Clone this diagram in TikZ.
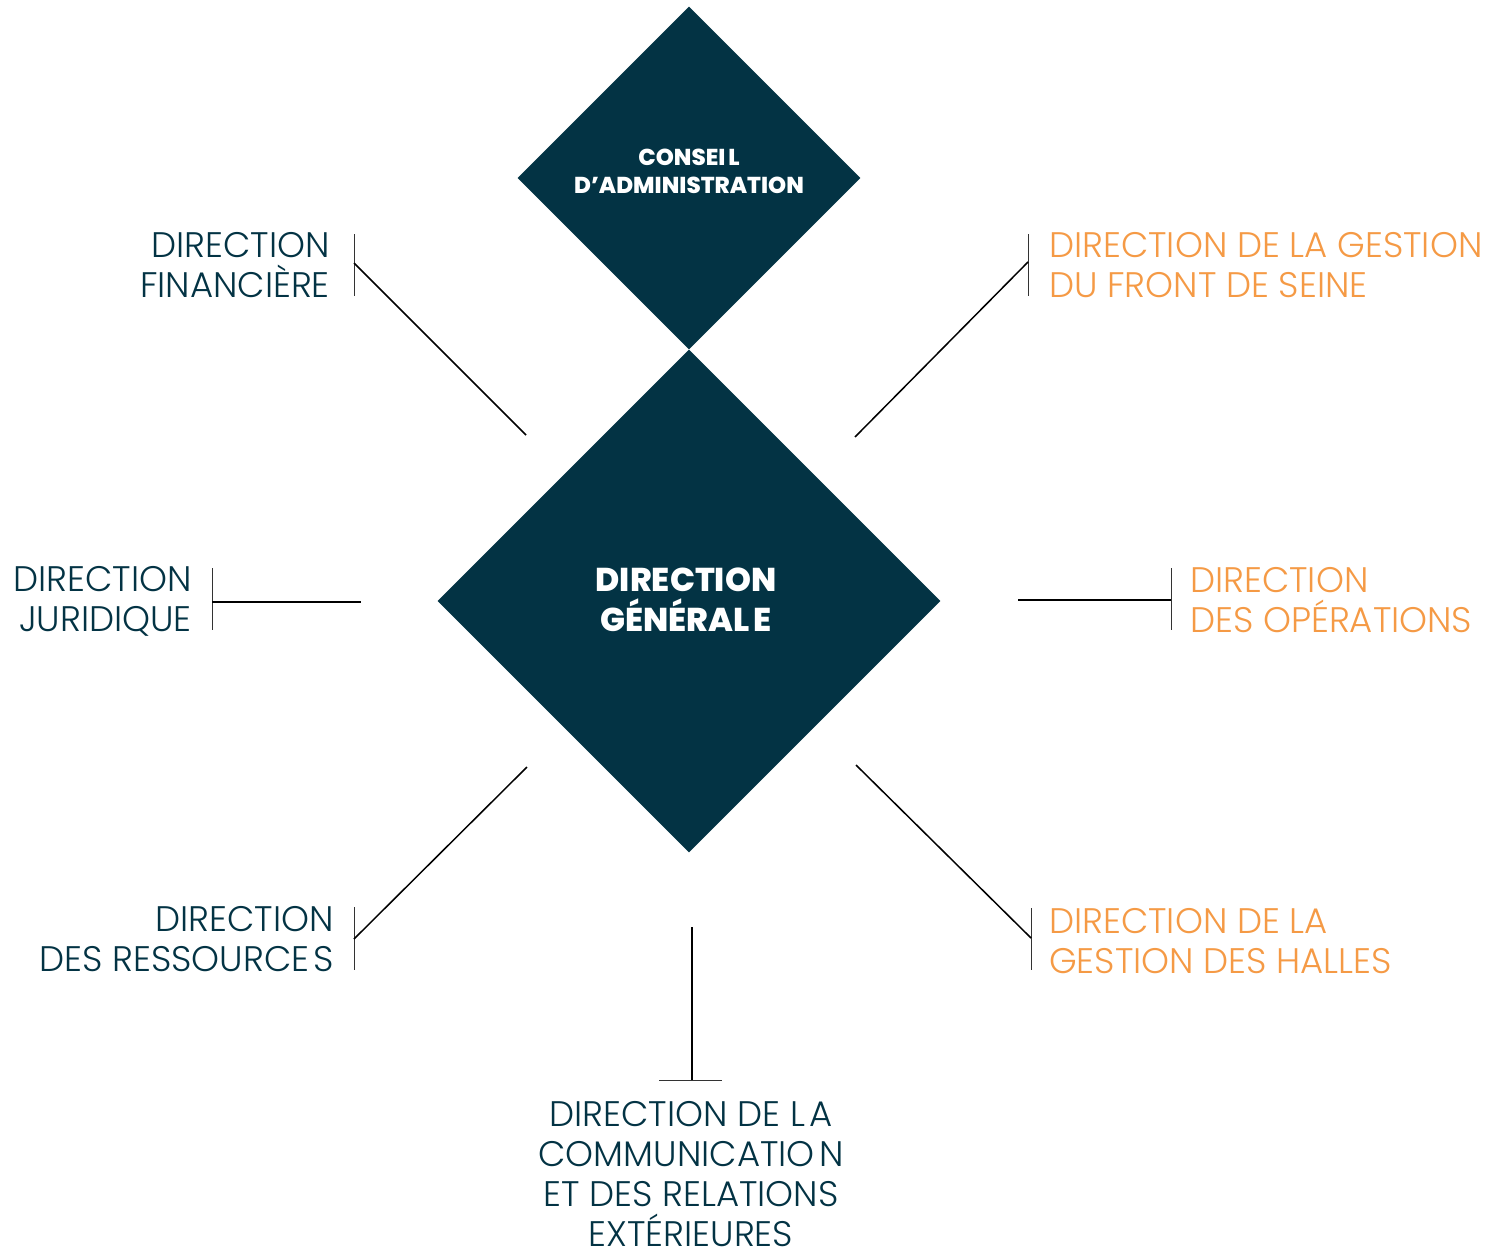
\documentclass[tikz,border=0pt]{standalone}
\usepackage{fontspec}
\setmainfont{Poppins}
\newfontfamily\lightfont{Poppins Light}
\newfontfamily\heavyfont{Poppins ExtraBold}
\usetikzlibrary{shapes.geometric}
\definecolor{dgteal}{HTML}{033344}
\definecolor{orng}{HTML}{F59A45}
\newcommand{\tsp}{{\spaceskip=0.12em\relax{} }}
\tikzset{
  lbl/.style={inner sep=0pt, text=dgteal, font=\lightfont\fontsize{35.5}{40}\selectfont},
  olbl/.style={lbl, text=orng},
  bar/.style={draw=black!80, line width=1pt},
  conn/.style={draw=black, line width=1.5pt},
  bigdia/.style={diamond, fill=dgteal, inner sep=0pt, aspect=1},
  diatext/.style={inner sep=0pt, text=white, align=center},
}
\begin{document}
\begin{tikzpicture}[x=1pt,y=-1pt]
\useasboundingbox[fill=white] (0,0) rectangle (1508,1253);
% diamonds
\node[bigdia, minimum width=343pt, minimum height=343pt] (ca) at (689,178) {};
\node[diatext, font=\heavyfont\fontsize{23}{28}\selectfont] (ca-txt) at (689,171.5) {CONSEI\tsp L\\D’ADMINISTRATION};
\node[bigdia, minimum width=503pt, minimum height=503pt] (dg) at (689,601) {};
\node[diatext, font=\heavyfont\fontsize{33}{40}\selectfont] (dg-txt) at (686,600) {DIRECTION\\GÉNÉRAL\tsp E};
% labels
\node[lbl, anchor=north east, align=right] (fin) at (330,232) {DIRECTION\\FINANCIÈRE};
\node[olbl, anchor=north west, align=left] (fds) at (1049,232) {DIRECTION DE LA GESTION\\DU FRONT DE SEINE};
\node[lbl, anchor=north east, align=right] (jur) at (192,566) {DIRECTION\\JURIDIQUE};
\node[olbl, anchor=north west, align=left] (ope) at (1190,567) {DIRECTION\\DES OPÉRATIONS};
\node[lbl, anchor=north east, align=right] (res) at (334,906) {DIRECTION\\DES RESSOURCE\tsp S};
\node[olbl, anchor=north west, align=left] (hal) at (1049,908) {DIRECTION DE LA\\GESTION DES HALLES};
\node[lbl, anchor=north, align=center] (com) at (691,1101) {DIRECTION DE L\tsp A\\COMMUNICATIO\tsp N\\ET DES RELATIONS\\EXTÉRIEURES};
% bars and connector points
\coordinate (fin-t) at (354,234); \coordinate (fin-b) at (354,296);
\coordinate (fin-c) at (354,263); \coordinate (fin-e) at (526,435);
\coordinate (fds-t) at (1028,234); \coordinate (fds-b) at (1028,296);
\coordinate (fds-c) at (1028,262); \coordinate (fds-e) at (855,437);
\coordinate (jur-t) at (212,568); \coordinate (jur-b) at (212,630);
\coordinate (jur-c) at (212,602); \coordinate (jur-e) at (361,602);
\coordinate (ope-t) at (1171,568); \coordinate (ope-b) at (1171,630);
\coordinate (ope-c) at (1171,600); \coordinate (ope-e) at (1018,600);
\coordinate (res-t) at (354,907); \coordinate (res-b) at (354,970);
\coordinate (res-c) at (354,939); \coordinate (res-e) at (527,767);
\coordinate (hal-t) at (1031,908); \coordinate (hal-b) at (1031,970);
\coordinate (hal-c) at (1031,938); \coordinate (hal-e) at (856,765);
\coordinate (com-t) at (659,1080); \coordinate (com-b) at (722,1080);
\coordinate (com-c) at (692,1080); \coordinate (com-e) at (692,927);
\foreach \n in {fin,fds,jur,ope,res,hal,com}{
  \draw[bar] (\n-t) -- (\n-b);
  \draw[conn] (\n-c) -- (\n-e);
}
\end{tikzpicture}
\end{document}
